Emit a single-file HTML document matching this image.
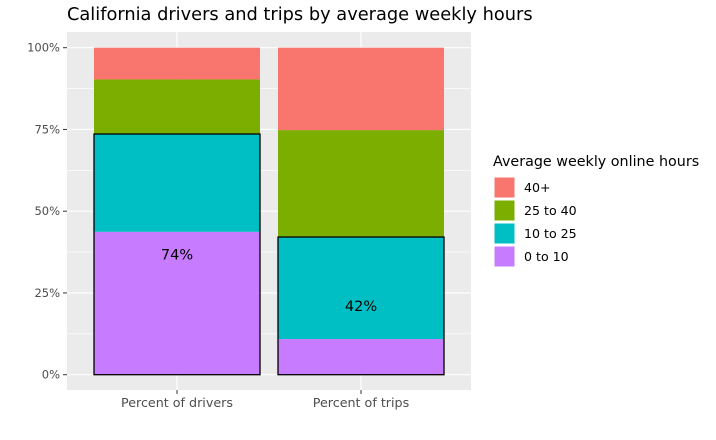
<!DOCTYPE html>
<html><head><meta charset="utf-8"><style>
body{margin:0;background:#fff;font-family:"Liberation Sans","DejaVu Sans",sans-serif;}
</style></head><body>
<svg id="c" width="716" height="435" style="font-family:'DejaVu Sans','Liberation Sans',sans-serif">
<text x="67" y="20" font-size="17.8" fill="#000">California drivers and trips by average weekly hours</text>
<rect x="67" y="32" width="404" height="358" fill="#ebebeb"/>
<g id="grid"></g><g id="bars"></g><g id="axes"></g>
<g>
<text x="493" y="166" font-size="14.3" fill="#000">Average weekly online hours</text>
<g id="leg"></g></g>
</svg>
<script>
const categories=["Percent of drivers","Percent of trips"];
const groups=["0 to 10","10 to 25","25 to 40","40+"];
const colors=["#C77CFF","#00BFC4","#7CAE00","#F8766D"];
const drivers=[43.7,29.9,16.7,9.7];
const trips=[10.9,31.2,32.7,25.2];
const labels=["74%","42%"];
const yTicks=[0,25,50,75,100];
const series=[drivers,trips];
const ns="http://www.w3.org/2000/svg";
function mk(t,a,p){const e=document.createElementNS(ns,t);for(const k in a)e.setAttribute(k,a[k]);p.appendChild(e);return e;}
const y=v=>374.7-v*3.27;
const xc=i=>177+i*184;
const bw=166;
const grid=document.getElementById('grid'),bars=document.getElementById('bars'),axes=document.getElementById('axes');
for(let v=12.5;v<100;v+=25){const l=mk('line',{x1:67,x2:471,y1:y(v),y2:y(v),stroke:'#fff','stroke-width':0.6},grid);}
yTicks.forEach(v=>{const l=mk('line',{x1:67,x2:471,y1:y(v),y2:y(v),stroke:'#fff','stroke-width':1.2},grid);
const t=mk('line',{x1:63,x2:67,y1:y(v),y2:y(v),stroke:'#333'},axes);
const tx=mk('text',{x:60,y:y(v)+4,'text-anchor':'end','font-size':11.5,fill:'#4d4d4d'},axes);tx.textContent=v+'%';});
categories.forEach((c,i)=>{const l=mk('line',{x1:xc(i),x2:xc(i),y1:32,y2:390,stroke:'#fff','stroke-width':1.2},grid);
const t=mk('line',{x1:xc(i),x2:xc(i),y1:390,y2:394,stroke:'#333'},axes);
const tx=mk('text',{x:xc(i),y:407,'text-anchor':'middle','font-size':12.7,fill:'#4d4d4d'},axes);tx.textContent=c;
let cum=0;const s=series[i];
s.forEach((v,j)=>{const r=mk('rect',{x:xc(i)-bw/2,y:y(cum+v),width:bw,height:v*3.27,fill:colors[j]},bars);cum+=v;});
const top=s[0]+s[1];
const o=mk('rect',{x:xc(i)-bw/2,y:y(top),width:bw,height:top*3.27,fill:'none',stroke:'#000','stroke-width':1.3},bars);
const lt=mk('text',{x:xc(i),y:y(top/2)+5,'text-anchor':'middle','font-size':14.5,fill:'#000'},bars);lt.textContent=labels[i];});
const leg=document.getElementById('leg');
[3,2,1,0].forEach((j,k)=>{const yy=177+k*23;const r=mk('rect',{x:494,y:yy,width:21,height:21,fill:colors[j],stroke:'#fff'},leg);
const t=mk('text',{x:524,y:yy+15,'font-size':12.6,fill:'#000'},leg);t.textContent=groups[j];});
</script>
</body></html>
